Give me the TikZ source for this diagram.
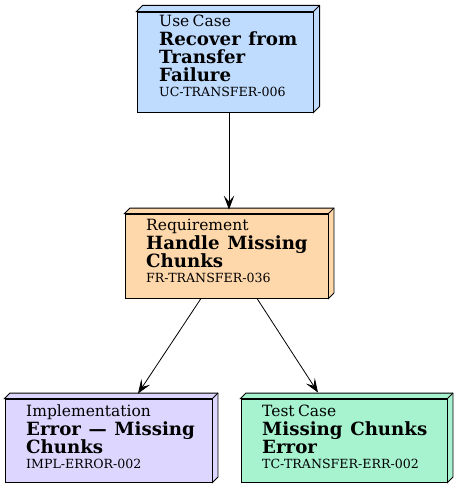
\documentclass[tikz,border=0pt]{standalone}
\usepackage{fontspec}
\setmainfont{DejaVu Serif}
\usetikzlibrary{arrows.meta,calc,backgrounds}
\definecolor{ucfill}{HTML}{BFDBFE}
\definecolor{reqfill}{HTML}{FED7AA}
\definecolor{implfill}{HTML}{DDD6FE}
\definecolor{tcfill}{HTML}{A7F3D0}
\tikzset{
  front/.style={draw=black, line width=0.9pt, inner sep=0pt, line join=miter},
  depthface/.style={draw=black, line width=0.9pt, line join=miter},
  lbl/.style={anchor=base west, inner sep=0pt, align=left, text width=220pt},
  conn/.style={draw=black, line width=0.8pt, -{Stealth[length=14pt,width=10.5pt,inset=6pt]}},
}
\newcommand\kindtext[1]{{\fontsize{15.5}{18.3}\selectfont #1\par}}
\newcommand\titletext[1]{{\fontsize{18.2}{18.3}\selectfont\bfseries\spaceskip=0.42em #1\par}}
\newcommand\idtext[1]{{\fontsize{12.6}{15}\selectfont #1\par}}
\newcommand\depthbox[3]{% node, depth, colour
  \begin{scope}[on background layer]
  \draw[depthface, fill=#3] (#1.north west) -- ++(#2,-#2) -- ($(#1.north east)+(#2,-#2)$) -- ($(#1.south east)+(#2,-#2)$) -- (#1.south east) -- (#1.north east) -- cycle;
  \draw[depthface] (#1.north east) -- ++(#2,-#2);
  \end{scope}}
\begin{document}
\begin{tikzpicture}[x=1pt,y=-1pt]
\useasboundingbox (0,0) rectangle (459,488);
% Use case
\node[front, fill=ucfill, minimum width=176pt, minimum height=100pt] (uc) at (225,62) {};
\depthbox{uc}{6.2}{ucfill}
\node[lbl] (uct) at (159,26.7) {\kindtext{Use Case}\titletext{Recover from\\Transfer\\Failure}\idtext{UC-TRANSFER-006}};
% Requirement
\node[front, fill=reqfill, minimum width=203pt, minimum height=84pt] (req) at (226.5,256) {};
\depthbox{req}{5.5}{reqfill}
\node[lbl] (reqt) at (146,230.7) {\kindtext{Requirement}\titletext{Handle Missing\\Chunks}\idtext{FR-TRANSFER-036}};
% Implementation
\node[front, fill=implfill, minimum width=207pt, minimum height=83pt] (impl) at (108.5,440.5) {};
\depthbox{impl}{5.5}{implfill}
\node[lbl] (implt) at (26,416.7) {\kindtext{Implementation}\titletext{Error — Missing\\Chunks}\idtext{IMPL-ERROR-002}};
% Test case
\node[front, fill=tcfill, minimum width=206pt, minimum height=83pt] (tc) at (344,440.5) {};
\depthbox{tc}{5.5}{tcfill}
\node[lbl] (tct) at (262,416.7) {\kindtext{Test Case}\titletext{Missing Chunks\\Error}\idtext{TC-TRANSFER-ERR-002}};
% connectors
\draw[conn] ([xshift=4pt]uc.south) -- ([xshift=2.5pt,yshift=4pt]req.north);
\draw[conn] ([xshift=-25.5pt]req.south) -- ([xshift=29.5pt,yshift=5pt]impl.north);
\draw[conn] ([xshift=30.5pt]req.south) -- ([xshift=-26pt,yshift=6pt]tc.north);
\end{tikzpicture}
\end{document}
